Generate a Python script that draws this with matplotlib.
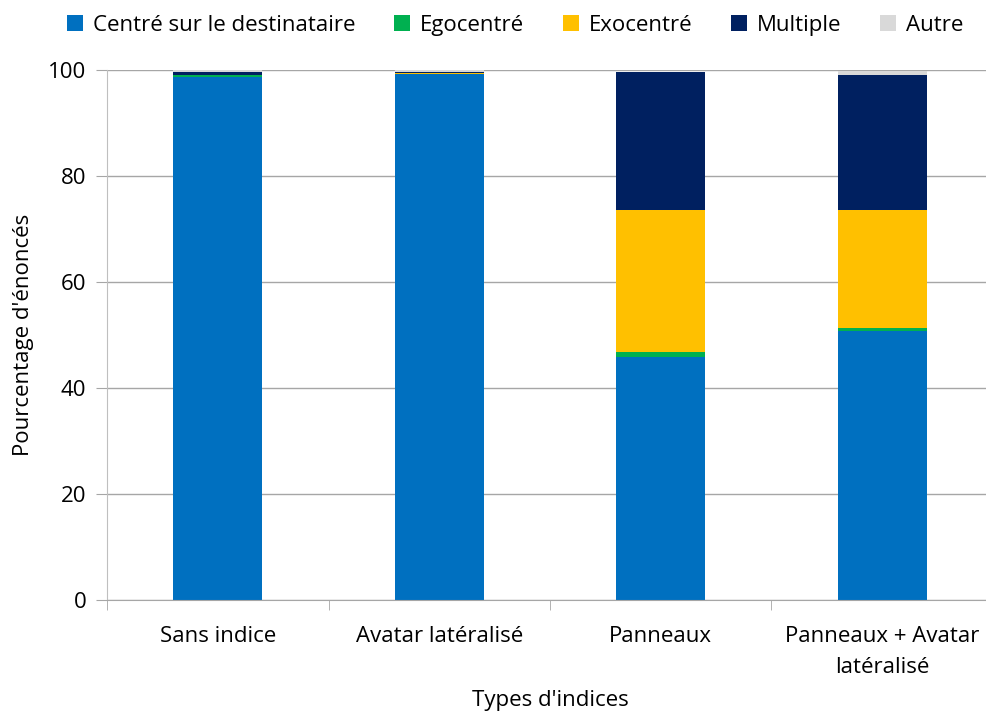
import numpy as np
import matplotlib
matplotlib.use('Agg')
import matplotlib.pyplot as plt
from matplotlib.patches import Patch

plt.rcParams['font.family'] = ['Open Sans', 'DejaVu Sans']

FONT_SIZE = 16

# pourcentages par type d'indice
categories = ['Sans indice', 'Avatar latéralisé', 'Panneaux', 'Panneaux + Avatar\nlatéralisé']
centre = [98.7, 99.2, 45.8, 50.7]
ego = [0.3, 0.0, 0.9, 0.7]
exo = [0.1, 0.2, 26.9, 22.2]
multiple = [0.5, 0.3, 26.0, 25.5]
autre = [0.4, 0.3, 0.1, 0.8]

series = [
    ('Centré sur le destinataire', centre, '#0070C0'),
    ('Egocentré', ego, '#00B050'),
    ('Exocentré', exo, '#FFC000'),
    ('Multiple', multiple, '#002060'),
    ('Autre', autre, '#D9D9D9'),
]

fig = plt.figure(figsize=(9.87, 7.15), dpi=100)
ax = fig.add_axes([107 / 987, 1 - 600 / 715, (993 - 107) / 987, (600 - 70) / 715])

x = np.arange(len(categories))
bottom = np.zeros(len(categories))
for name, vals, color in series:
    ax.bar(x, vals, width=0.4, bottom=bottom, color=color, zorder=2)
    bottom += np.array(vals)

ax.set_xlim(-0.5, 3.5)
ax.set_ylim(0, 100)
ax.set_yticks(range(0, 101, 20))
ax.yaxis.grid(True, color='#A6A6A6', linewidth=1, zorder=0)
ax.set_axisbelow(True)

ax.set_xticks(x)
ax.set_xticklabels(categories, fontsize=FONT_SIZE, linespacing=1.6)
ax.set_xticks(np.arange(-0.5, 4, 1), minor=True)
ax.tick_params(axis='x', which='major', length=0, pad=19)
ax.tick_params(axis='x', which='minor', length=7, color='#A6A6A6', direction='out')
ax.tick_params(axis='y', length=8, color='#A6A6A6', labelsize=FONT_SIZE, pad=7)

for side in ['top', 'right']:
    ax.spines[side].set_visible(False)
ax.spines['left'].set_color('#BFBFBF')
ax.spines['bottom'].set_color('#A6A6A6')

ax.set_ylabel("Pourcentage d'énoncés", fontsize=FONT_SIZE, labelpad=10)
ax.set_xlabel("Types d'indices", fontsize=FONT_SIZE, labelpad=9)

handles = [Patch(facecolor=c, label=n) for n, _, c in series]
fig.legend(handles=handles, loc='upper center', bbox_to_anchor=(0.522, 1.007),
           ncol=5, frameon=False, fontsize=FONT_SIZE, handlelength=0.7,
           handleheight=0.7, handletextpad=0.45, columnspacing=1.75)

fig.savefig('out.png', dpi=100)
